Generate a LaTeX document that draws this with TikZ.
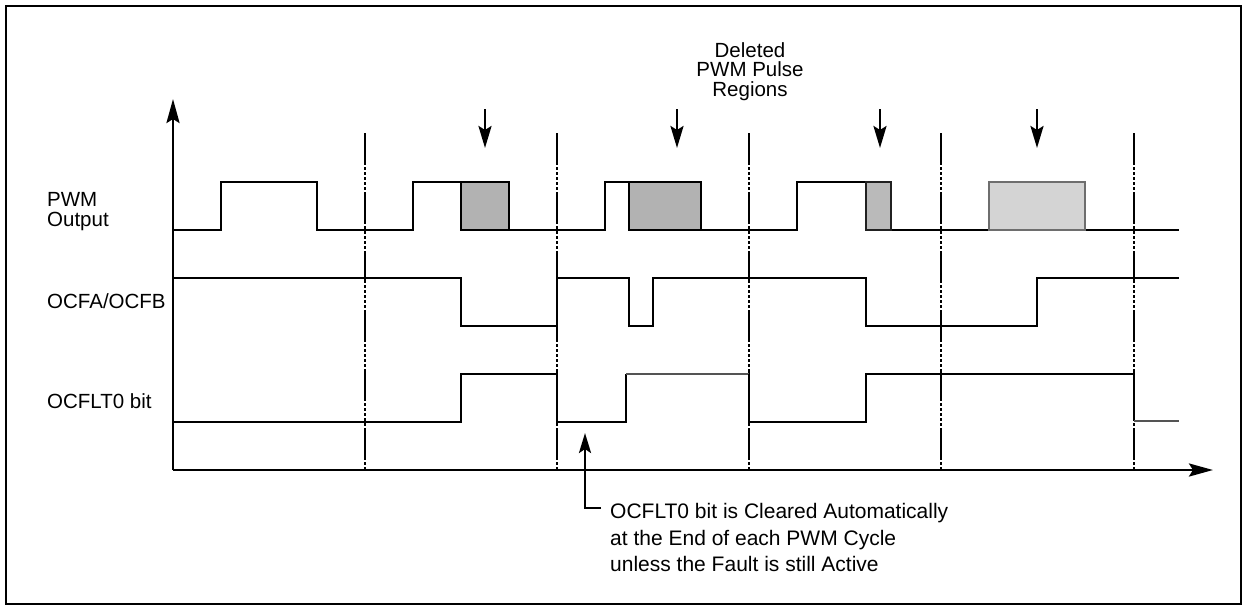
\documentclass[tikz,border=0pt]{standalone}
\usepackage{fontspec}
\setmainfont{Liberation Sans}
\usetikzlibrary{arrows.meta}
\begin{document}
\begin{tikzpicture}[x=1pt,y=-1pt,
  wave/.style={line width=2.8pt, line join=miter},
  divider/.style={line width=2.6pt, dash pattern=on 32pt off 2pt on 3pt off 2pt on 3pt off 2pt on 3pt off 2pt on 3pt off 2pt on 3pt off 2pt},
  axis/.style={line width=2.8pt, -{Stealth[length=24pt,width=13pt,inset=4pt]}},
  darrow/.style={line width=2.6pt, -{Stealth[length=22pt,width=13pt,inset=4pt]}},
  lbl/.style={font=\fontsize{20.5}{20}\selectfont, inner sep=0pt, anchor=north west, align=left},
  delbox/.style={line width=2.8pt, draw=black, fill=black!30},
]
\useasboundingbox (0,0) rectangle (1246,608);
\draw[line width=2.2pt] (6,6) rectangle (1241,604);

% labels
\node[lbl] (lpwm) at (47,192) {PWM\\Output};
\node[lbl] (locf) at (47,293) {OCFA/OCFB};
\node[lbl] (lflt) at (47,393) {OCFLT0 bit};
\node[font=\fontsize{20.5}{19.5}\selectfont, inner sep=0pt, anchor=north, align=center] (ldel) at (750,42) {Deleted\\PWM Pulse\\Regions};
\node[font=\fontsize{21}{26.7}\selectfont, inner sep=0pt, anchor=north west, align=left] (note) at (610,503)
  {OCFLT0 bit is Cleared Automatically\\at the End of each PWM Cycle\\unless the Fault is still Active};

% dividers
\foreach \x in {365,557,749,941,1134} \draw[divider] (\x,133) -- (\x,470);

% axes
\coordinate (O) at (173,470);
\coordinate (ytip) at (173,99);
\coordinate (xtip) at (1213,470);
\draw[axis] (O) -- (ytip);
\draw[axis] (O) -- (xtip);

% PWM output
\draw[wave] (173,230) -- (221,230) -- (221,182) -- (317,182) -- (317,230) -- (413,230) -- (413,182) -- (461,182);
\draw[wave] (509,230) -- (605,230) -- (605,182) -- (629,182);
\draw[wave] (701,230) -- (797,230) -- (797,182) -- (866,182);
\draw[wave] (891,230) -- (989,230);
\draw[wave] (1085,230) -- (1179,230);
\draw[delbox] (461,182) rectangle (509,230);
\draw[delbox] (629,182) rectangle (701,230);
\draw[delbox, draw=black!87, fill=black!27] (866,182) rectangle (891,230);
\draw[delbox, line width=2.3pt, draw=black!57, fill=black!17] (989,182) rectangle (1085,230);

% OCFA/OCFB
\draw[wave] (173,278) -- (461,278) -- (461,326) -- (557,326) -- (557,278) -- (629,278) -- (629,326) -- (653,326) -- (653,278) -- (866,278) -- (866,326) -- (1037,326) -- (1037,278) -- (1179,278);

% OCFLT0
\draw[wave] (173,422) -- (461,422) -- (461,374) -- (557,374) -- (557,422) -- (626,422) -- (626,374);
\draw[wave, black!67] (626,374) -- (749,374);
\draw[wave] (749,374) -- (749,422) -- (866,422) -- (866,374) -- (1134,374) -- (1134,421);
\draw[line width=2.3pt, black!67] (1134,421) -- (1179,421);

% down arrows
\foreach \x/\n in {485/a,677/b,880/c,1037/d} {
  \coordinate (s\n) at (\x,109);
  \coordinate (e\n) at (\x,148);
  \draw[darrow] (s\n) -- (e\n);
}

% callout
\coordinate (cstart) at (601,508);
\coordinate (ccorner) at (585,508);
\coordinate (ctip) at (585,433);
\draw[line width=2.6pt, -{Stealth[length=20pt,width=12pt,inset=4pt]}] (cstart) -- (ccorner) -- (ctip);
\end{tikzpicture}
\end{document}
